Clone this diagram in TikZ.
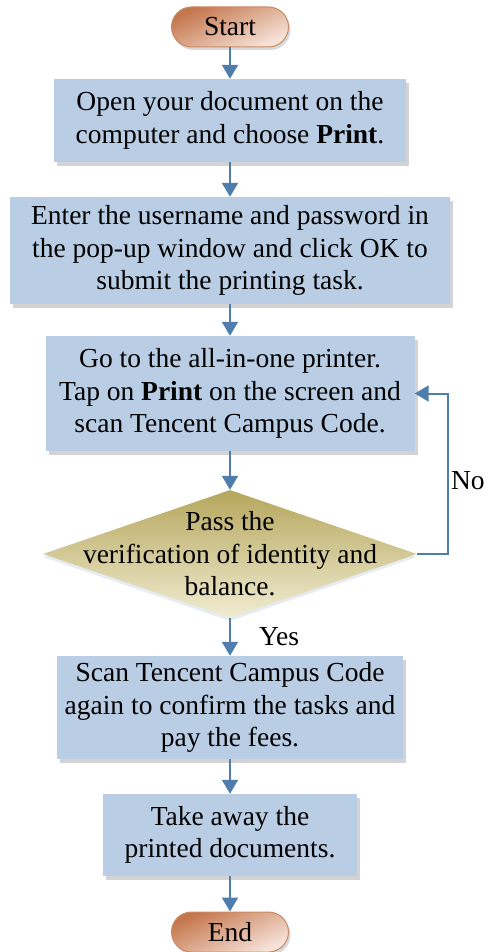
\documentclass[tikz,border=0pt]{standalone}
\usepackage{fontspec}
\setmainfont{Liberation Serif}
\usetikzlibrary{shapes.geometric,shadows,arrows.meta}

\definecolor{boxblue}{HTML}{B9CDE5}
\definecolor{flowblue}{RGB}{80,126,172}
\definecolor{termtop}{HTML}{C4764C}
\definecolor{termbottom}{HTML}{F7E4DA}
\definecolor{termline}{HTML}{C98A64}
\definecolor{dectop}{HTML}{B5A65C}
\definecolor{decbottom}{HTML}{F1ECD2}

\tikzset{
  procbox/.style={rectangle, fill=boxblue, align=center, inner sep=0pt,
    drop shadow={shadow xshift=3pt, shadow yshift=-4pt, opacity=0.35}},
  termbox/.style={rectangle, rounded corners=20pt, minimum width=117pt,
    minimum height=40pt, draw=termline, line width=1pt,
    top color=termtop, bottom color=termbottom, shading angle=25,
    drop shadow={shadow xshift=2pt, shadow yshift=-3pt, opacity=0.3}},
  decbox/.style={diamond, inner sep=0pt, minimum width=374pt,
    minimum height=128pt, top color=dectop, bottom color=decbottom,
    drop shadow={shadow xshift=0pt, shadow yshift=-3pt, opacity=0.15, fill=flowblue}},
  flowarrow/.style={draw=flowblue, line width=2pt,
    -{Triangle[width=16pt,length=14pt]}}
}

\begin{document}
\begin{tikzpicture}[x=1pt,y=-1pt,font=\fontsize{27.5}{32.5}\selectfont]
    \useasboundingbox (0,0) rectangle (487,952);
    % steps, top to bottom
    \node[termbox] (start) at (230,27) {Start};
    \node[procbox, minimum width=352pt, minimum height=83pt] (open) at (230,120.5)
        {Open your document on the\\computer and choose \textbf{Print}.};
    \node[procbox, minimum width=440pt, minimum height=107pt] (login) at (230,250.5)
        {Enter the username and password in\\the pop-up window and click OK to\\submit the printing task.};
    \node[procbox, minimum width=369pt, minimum height=115pt] (goprint) at (230,393.5)
        {Go to the all-in-one printer.\\Tap on \textbf{Print} on the screen and\\scan Tencent Campus Code.};
    \node[decbox] (check) at (230,554) {};
    \node[align=center, inner sep=0pt] (checktext) at (check)
        {Pass the\\verification of identity and\\balance.};
    \node[procbox, minimum width=346pt, minimum height=103pt] (pay) at (230,707.5)
        {Scan Tencent Campus Code\\again to confirm the tasks and\\pay the fees.};
    \node[procbox, minimum width=254pt, minimum height=82pt] (takeaway) at (230,835)
        {Take away the\\printed documents.};
    \node[termbox] (end) at (230,932) {End};
    % connectors
    \draw[flowarrow] (start) -- (open);
    \draw[flowarrow] (open) -- (login);
    \draw[flowarrow] (login) -- (goprint);
    \draw[flowarrow] (goprint) -- (check.north);
    \draw[flowarrow] (check.south) -- (pay)
        node[midway, right, inner sep=0pt, xshift=28pt] {Yes};
    \draw[flowarrow] (pay) -- (takeaway);
    \draw[flowarrow] (takeaway) -- (end);
    \coordinate (loop) at (448,393.5);
    \draw[flowarrow] (check.east) -| (loop)
        node[pos=0.73, right, inner sep=2pt] {No} -- (goprint.east);
\end{tikzpicture}
\end{document}
